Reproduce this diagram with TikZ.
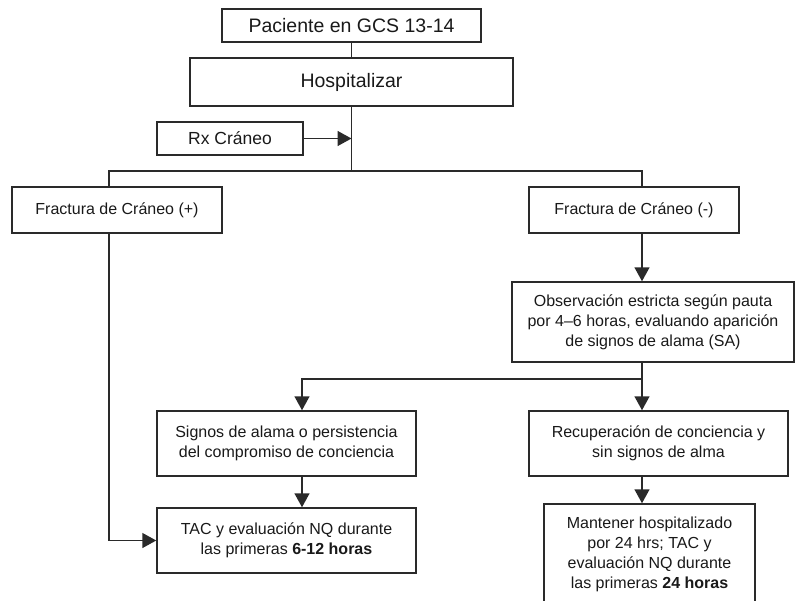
\documentclass[tikz,border=0pt]{standalone}
\usepackage{fontspec}
\setmainfont{Liberation Sans}
\usetikzlibrary{arrows.meta,positioning,calc}
\definecolor{trazo}{HTML}{2A2A2A}
\tikzset{
  caja/.style={rectangle, draw=trazo, line width=1.5pt, align=center, inner sep=2pt, text=black!90},
  grande/.style={font=\fontsize{19.5}{23}\selectfont},
  normal/.style={font=\fontsize{16}{20}\selectfont},
  linea/.style={line width=1.5pt, draw=trazo},
  flecha/.style={-{Triangle[length=14pt,width=15pt]}, line width=1.5pt, draw=trazo},
}

\begin{document}
\begin{tikzpicture}[x=1pt,y=-1pt]
\useasboundingbox (0,0) rectangle (795,600);
\clip (0,0) rectangle (795,600);
\node[caja, grande, minimum width=259pt, minimum height=33pt] (paciente) at (351.5,25.5) {Paciente en GCS 13-14};
\node[caja, grande, minimum width=323pt, minimum height=48pt] (hosp) at (351.5,82) {Hospitalizar};
\node[caja, font=\fontsize{17.5}{21}\selectfont, minimum width=146pt, minimum height=33pt] (rx) at (230,138.5) {Rx Cráneo};
\node[caja, normal, minimum width=210pt, minimum height=46pt] (fracpos) at (117,210) {Fractura de Cráneo (+)};
\node[caja, normal, minimum width=210pt, minimum height=46pt] (fracneg) at (634,210) {Fractura de Cráneo (-)};
\node[caja, normal, minimum width=282pt, minimum height=80pt] (obs) at (653,322) {Observación estricta según pauta\\por 4–6 horas, evaluando aparición\\de signos de alama (SA)};
\node[caja, normal, minimum width=259pt, minimum height=65pt] (signos) at (286.5,443.5) {Signos de alama o persistencia\\del compromiso de conciencia};
\node[caja, normal, minimum width=259pt, minimum height=65pt] (recup) at (658.5,443.5) {Recuperación de conciencia y\\sin signos de alma};
\node[caja, normal, minimum width=259pt, minimum height=65pt] (tac) at (286.5,540.5) {TAC y evaluación NQ durante\\las primeras \textbf{6-12 horas}};
\node[caja, normal, minimum width=211pt, minimum height=100pt] (mantener) at (649.5,554) {Mantener hospitalizado\\por 24 hrs; TAC y\\evaluación NQ durante\\las primeras \textbf{24 horas}};

\coordinate (ejeizq) at (109,171);
\coordinate (ejeder) at (642,171);
\coordinate (ejesig) at (302,379);
\coordinate (ejerec) at (642,379);

\draw[linea] (paciente.south) -- (paciente.south |- hosp.north);
\draw[linea] (hosp.south) -- (hosp.south |- ejeder);
\draw[flecha] (rx.east) -- (rx.east -| hosp.south);
\draw[linea] (ejeizq |- fracpos.north) -- (ejeizq) -- (ejeder) -- (ejeder |- fracneg.north);
\draw[flecha] (ejeizq |- fracpos.south) |- (tac.west);
\draw[flecha] (ejeder |- fracneg.south) -- (ejeder |- obs.north);
\draw[linea] (ejerec |- obs.south) -- (ejerec);
\draw[flecha] (ejerec) -- (ejesig) -- (ejesig |- signos.north);
\draw[flecha] (ejerec) -- (ejerec |- recup.north);
\draw[flecha] (ejesig |- signos.south) -- (ejesig |- tac.north);
\draw[flecha] (ejerec |- recup.south) -- (ejerec |- mantener.north);
\end{tikzpicture}
\end{document}
